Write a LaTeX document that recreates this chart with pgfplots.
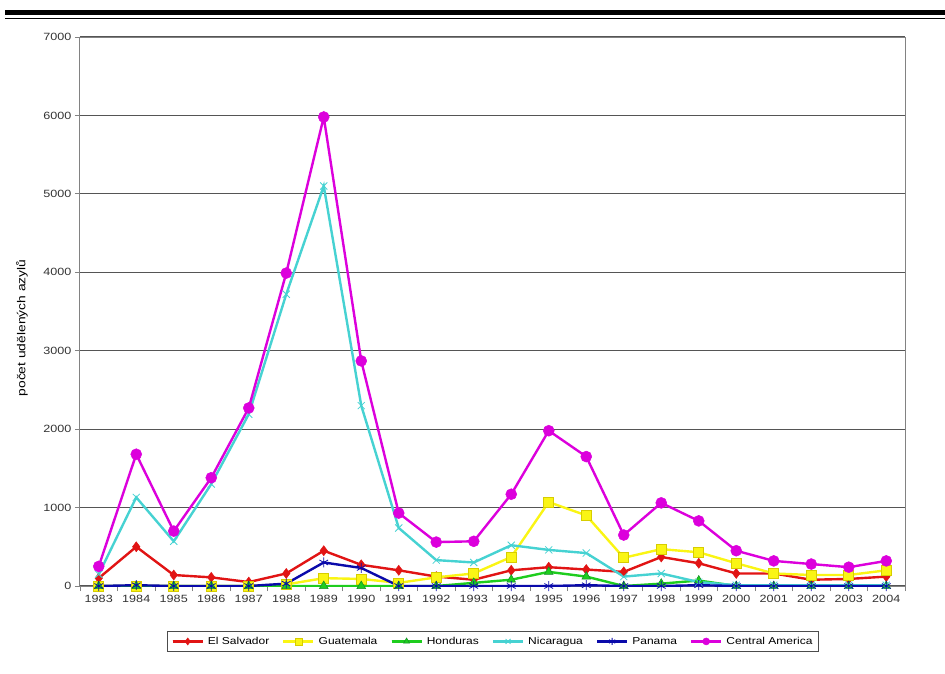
\documentclass[border=0pt]{standalone}
\usepackage{pgfplots}
\pgfplotsset{compat=1.18}
\usepackage{fontspec}
\setmainfont{Liberation Sans}[FakeStretch=1.2]
\usetikzlibrary{plotmarks}

\definecolor{esred}{RGB}{225,20,20}
\definecolor{gtyellow}{RGB}{250,245,20}
\definecolor{gtedge}{RGB}{215,205,0}
\definecolor{hngreen}{RGB}{30,205,30}
\definecolor{hndark}{RGB}{20,140,40}
\definecolor{nicyan}{RGB}{70,210,210}
\definecolor{pablue}{RGB}{10,10,170}
\definecolor{camag}{RGB}{220,0,220}
\definecolor{gridc}{RGB}{85,85,85}
\definecolor{framec}{RGB}{130,130,130}

% years 1983..2004 as x = 0..21
\pgfplotstableread{
x es gt hn ni pa ca
0  100  0    0   150  0   250
1  500  0    0   1130 10  1680
2  140  0    0   570  0   700
3  110  0    0   1300 0   1380
4  50   0    0   2190 0   2270
5  160  20   0   3720 30  3990
6  450  100  0   5100 300 5980
7  270  90   0   2300 230 2870
8  200  40   0   740  0   930
9  120  110  0   330  0   560
10 80   160  40  300  0   570
11 200  370  80  520  0   1170
12 240  1070 180 460  0   1980
13 210  900  120 420  10  1650
14 180  360  0   120  0   650
15 370  470  30  160  0   1060
16 290  430  70  50   10  830
17 160  290  0   10   0   450
18 160  160  0   10   0   320
19 80   140  0   10   0   280
20 90   140  0   10   0   240
21 120  200  0   10   0   320
}\data

\begin{document}
\begin{tikzpicture}[x=1pt,y=1pt]
\useasboundingbox (0,0) rectangle (945,673);
\draw[line width=5pt] (5,660.5) -- (945,660.5);
\draw[line width=1.5pt] (5,654.5) -- (945,654.5);
\begin{axis}[
  at={(80pt,87pt)}, anchor=south west,
  scale only axis, width=825pt, height=549pt,
  xmin=-0.5, xmax=21.5, ymin=0, ymax=7000,
  xtick={0,...,21},
  xticklabels={1983,1984,1985,1986,1987,1988,1989,1990,1991,1992,1993,1994,1995,1996,1997,1998,1999,2000,2001,2002,2003,2004},
  minor xtick={-0.5,0.5,...,21.5},
  ytick={0,1000,...,7000},
  major x tick style={draw=none},
  tick pos=left, tick align=outside,
  major tick length=5pt, minor tick length=5pt,
  every tick/.style={framec, line width=0.8pt},
  axis line style={framec, line width=1pt},
  ymajorgrids, grid style={gridc, line width=1.2pt},
  /pgf/number format/assume math mode=true,
  /pgf/number format/1000 sep={},
  ticklabel style={font=\fontsize{10.5}{12}\selectfont, text=black!80},
  xticklabel style={yshift=-1pt},
  ylabel={počet udělených azylů},
  ylabel style={at={(axis description cs:-0.0703,0.47)}, anchor=center, font=\fontsize{11.5}{13}\selectfont},
  legend columns=6,
  legend style={at={(0.5006,-0.101)}, anchor=center, draw=black!70, line width=0.8pt,
    font=\fontsize{10}{12}\selectfont, inner xsep=4pt, inner ysep=3.5pt,
    /tikz/every odd column/.append style={column sep=2pt},
    /tikz/every even column/.append style={column sep=11pt}},
  legend cell align=left,
  legend image code/.code={%
    \draw[line width=2.4pt] (0pt,0pt) -- (30pt,0pt);
    \draw[mark repeat=2,mark phase=2,mark size=3.5pt] plot coordinates {(0pt,0pt) (15pt,0pt) (30pt,0pt)};},
  every axis plot/.append style={line width=2.4pt},
]
\addplot[esred, mark=diamond*, mark size=5pt, mark options={line width=0.5pt}] table[x=x,y=es]{\data};
\addlegendentry{El Salvador}
\addplot[gtyellow, mark=square*, mark size=5pt, mark options={line width=0.6pt, draw=gtedge, fill=gtyellow}] table[x=x,y=gt]{\data};
\addlegendentry{Guatemala}
\addplot[hngreen, mark=triangle*, mark size=5pt, mark options={line width=0.5pt, draw=hndark, fill=hngreen}] table[x=x,y=hn]{\data};
\addlegendentry{Honduras}
\addplot[nicyan, mark=x, mark size=5pt, mark options={line width=0.8pt}] table[x=x,y=ni]{\data};
\addlegendentry{Nicaragua}
\addplot[pablue, mark=asterisk, mark size=5pt, mark options={line width=0.8pt}] table[x=x,y=pa]{\data};
\addlegendentry{Panama}
\addplot[camag, mark=*, mark size=5.5pt, mark options={line width=0.5pt}] table[x=x,y=ca]{\data};
\addlegendentry{Central America}
\end{axis}
\end{tikzpicture}
\end{document}
